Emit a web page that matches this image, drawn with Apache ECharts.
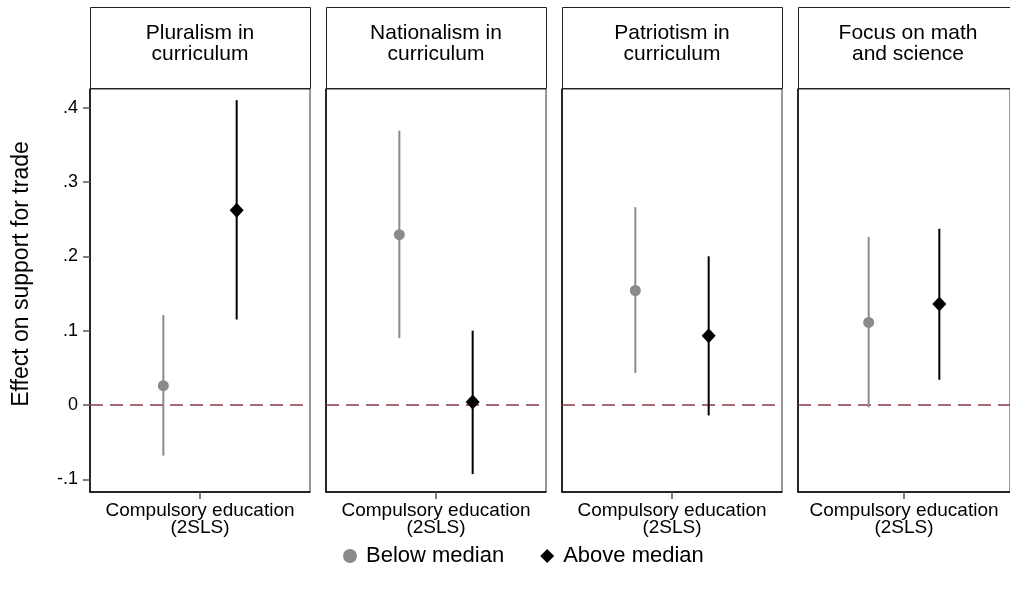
<!DOCTYPE html>
<html>
<head>
<meta charset="utf-8">
<title>Effect of compulsory education on support for trade</title>
<script src="https://cdn.jsdelivr.net/npm/echarts@6/dist/echarts.min.js"></script>
<style>
  html, body { margin: 0; padding: 0; background: #fff; }
  #chart { width: 1010px; height: 599px; }
</style>
</head>
<body>
<div id="chart"></div>
<script>
// Curriculum dimensions, one panel each
const panelTitles = ['Pluralism in\ncurriculum', 'Nationalism in\ncurriculum', 'Patriotism in\ncurriculum', 'Focus on math\nand science'];
const xCategoryLabel = 'Compulsory education\n(2SLS)';

// 2SLS estimates with confidence intervals, below-median group
const belowEst = [0.026, 0.229, 0.154, 0.111];
const belowLo  = [-0.068, 0.090, 0.043, -0.003];
const belowHi  = [0.121, 0.369, 0.266, 0.226];

// 2SLS estimates with confidence intervals, above-median group
const aboveEst = [0.262, 0.004, 0.093, 0.136];
const aboveLo  = [0.115, -0.093, -0.014, 0.034];
const aboveHi  = [0.410, 0.100, 0.200, 0.237];

// Vertical axis ticks
const yTicks = [-0.1, 0, 0.1, 0.2, 0.3, 0.4];
const yTickLabels = ['-.1', '0', '.1', '.2', '.3', '.4'];

// Reference value drawn as a dashed line
const refValue = 0;

const seriesNames = ['Below median', 'Above median'];

// Layout
const FONT = '"Liberation Sans", Arial, Helvetica, sans-serif';
const panelLeft0 = 90, panelStep = 236, panelWidth = 220;
const plotTop = 89, plotBottom = 492;
const headTop = 7, headBottom = 88;
const yMin = -0.117, yMax = 0.425;
const xMin = 0, xMax = 3, xBelow = 1, xAbove = 2, xTick = 1.5;
const grayColor = '#8a8a8a', blackColor = '#000000', refColor = '#8c3a44';

const chart = echarts.init(document.getElementById('chart'), null, { renderer: 'canvas' });

const grids = [], xAxes = [], yAxes = [], series = [], graphics = [];

function ciBar(color) {
  return function (params, api) {
    const x = api.value(0);
    const p1 = api.coord([x, api.value(1)]);
    const p2 = api.coord([x, api.value(2)]);
    return {
      type: 'line',
      shape: { x1: p1[0], y1: p1[1], x2: p2[0], y2: p2[1] },
      style: { stroke: color, lineWidth: 2 }
    };
  };
}

panelTitles.forEach(function (title, i) {
  const left = panelLeft0 + i * panelStep;
  grids.push({
    left: left, top: plotTop, width: panelWidth, height: plotBottom - plotTop,
    show: true, borderColor: '#333', borderWidth: 1, backgroundColor: '#fff'
  });
  xAxes.push({
    gridIndex: i, type: 'value', min: xMin, max: xMax,
    splitLine: { show: false },
    axisLine: { show: true, onZero: false, lineStyle: { color: '#000', width: 1.5 } },
    axisTick: { show: true, customValues: [xTick], length: 7, lineStyle: { color: '#555', width: 1.5 } },
    axisLabel: {
      show: true, customValues: [xTick], margin: 10,
      formatter: function () { return xCategoryLabel; },
      fontFamily: FONT, fontSize: 19, lineHeight: 17, color: '#000'
    }
  });
  yAxes.push({
    gridIndex: i, type: 'value', min: yMin, max: yMax,
    splitLine: { show: false },
    axisLine: { show: true, onZero: false, lineStyle: { color: '#000', width: 1.5 } },
    axisTick: { show: i === 0, customValues: yTicks, length: 7, lineStyle: { color: '#555', width: 1.5 } },
    axisLabel: {
      show: i === 0, customValues: yTicks, margin: 12,
      formatter: function (v) {
        const k = yTicks.findIndex(function (t) { return Math.abs(t - v) < 1e-9; });
        return k >= 0 ? yTickLabels[k] : '';
      },
      fontFamily: FONT, fontSize: 18, color: '#000'
    }
  });

  // dashed zero reference across the panel
  series.push({
    type: 'line', name: 'reference', xAxisIndex: i, yAxisIndex: i,
    data: [[xMin, refValue], [xMax, refValue]],
    symbol: 'none', silent: true, z: 1,
    lineStyle: { color: refColor, type: [13, 7], width: 1.4, opacity: 1 },
    emphasis: { disabled: true }
  });
  // confidence intervals
  series.push({
    type: 'custom', name: seriesNames[0], xAxisIndex: i, yAxisIndex: i,
    renderItem: ciBar(grayColor), itemStyle: { color: grayColor },
    data: [[xBelow, belowLo[i], belowHi[i]]], z: 3, silent: true
  });
  series.push({
    type: 'custom', name: seriesNames[1], xAxisIndex: i, yAxisIndex: i,
    renderItem: ciBar(blackColor), itemStyle: { color: blackColor },
    data: [[xAbove, aboveLo[i], aboveHi[i]]], z: 3, silent: true
  });
  // point estimates
  series.push({
    type: 'scatter', name: seriesNames[0], xAxisIndex: i, yAxisIndex: i,
    symbol: 'circle', symbolSize: 11, itemStyle: { color: grayColor, opacity: 1 },
    data: [[xBelow, belowEst[i]]], z: 4
  });
  series.push({
    type: 'scatter', name: seriesNames[1], xAxisIndex: i, yAxisIndex: i,
    symbol: 'diamond', symbolSize: [14, 15], itemStyle: { color: blackColor, opacity: 1 },
    data: [[xAbove, aboveEst[i]]], z: 4
  });

  // header strip with panel title
  graphics.push({
    type: 'rect', silent: true,
    shape: { x: left + 0.5, y: headTop + 0.5, width: panelWidth, height: headBottom - headTop },
    style: { fill: '#fff', stroke: '#222', lineWidth: 1 }
  });
  graphics.push({
    type: 'text', silent: true,
    x: left + panelWidth / 2, y: headTop + 37,
    style: {
      text: title, fill: '#000', font: '21px ' + FONT, lineHeight: 21,
      align: 'center', verticalAlign: 'middle'
    }
  });
});

// vertical axis title
graphics.push({
  type: 'text', silent: true,
  x: 22, y: 274, rotation: Math.PI / 2,
  style: {
    text: 'Effect on support for trade', fill: '#000', font: '23px ' + FONT,
    align: 'center', verticalAlign: 'middle'
  }
});

chart.setOption({
  animation: false,
  backgroundColor: '#ffffff',
  grid: grids,
  xAxis: xAxes,
  yAxis: yAxes,
  legend: {
    left: 338, top: 540, itemGap: 36, itemWidth: 14, itemHeight: 14,
    selectedMode: false,
    textStyle: { fontFamily: FONT, fontSize: 22, color: '#000', padding: [0, 0, 0, 4] },
    data: [
      { name: seriesNames[0], icon: 'circle', itemStyle: { color: grayColor } },
      { name: seriesNames[1], icon: 'diamond', itemStyle: { color: blackColor } }
    ]
  },
  graphic: graphics,
  series: series
});
</script>
</body>
</html>
